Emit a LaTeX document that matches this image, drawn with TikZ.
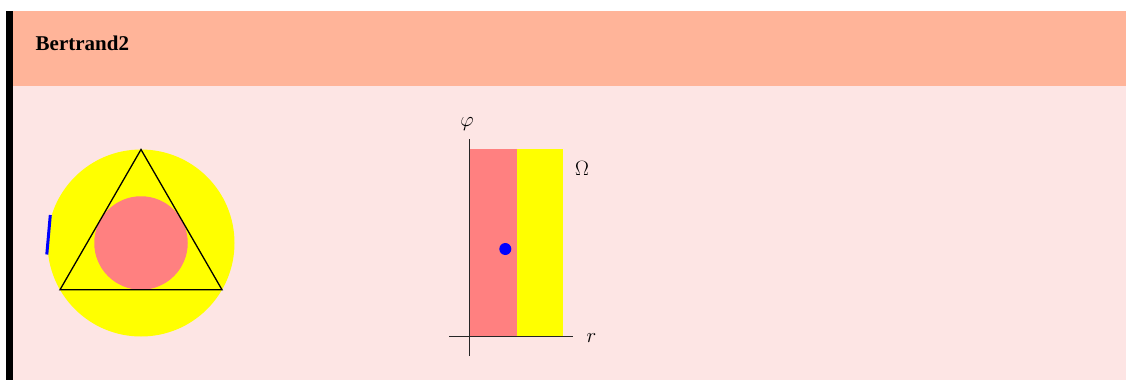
\documentclass[tikz,border=0pt]{standalone}
\usepackage{fontspec}
\newfontfamily\titlefont{Liberation Serif}
\definecolor{hdr}{RGB}{255,180,153}
\definecolor{bdy}{RGB}{253,229,228}
\definecolor{pinkfill}{RGB}{255,128,128}
\definecolor{yel}{RGB}{255,255,0}
\definecolor{dotblue}{RGB}{0,0,255}
\begin{document}
\begin{tikzpicture}[x=1pt,y=-1pt,
  lbl/.style={inner sep=0pt,font=\fontsize{21}{25}\selectfont},
  axisline/.style={draw=black!85,line width=1.4pt},
  thinline/.style={draw=black,line width=1.3pt}]
\useasboundingbox (0,0) rectangle (1128,380);
\fill[white] (0,0) rectangle (1128,380);
% panel
\fill[hdr] (6,11) rectangle (1126,86);
\fill[bdy] (6,86) rectangle (1126,380);
\fill[black] (6,11) rectangle (13.3,380);
\node[anchor=base west,inner sep=0pt,font=\titlefont\bfseries\fontsize{21}{25}\selectfont] (title) at (35.5,50.7) {Bertrand2};
% left figure
\coordinate (c) at (141,243);
\fill[yel] (c) circle[radius=93.5];
\fill[pinkfill] (c) circle[radius=46.75];
\coordinate (ta) at (141,149.5);
\coordinate (tb) at (60,289.75);
\coordinate (tc) at (222,289.75);
\draw[thinline,line join=miter] (ta) -- (tb) -- (tc) -- cycle;
\coordinate (b1) at (50.3,215);
\coordinate (b2) at (46.8,254.5);
\draw[dotblue,line width=3pt] (b1) -- (b2);
% right figure
\fill[pinkfill] (469.3,149) rectangle (517,336.7);
\fill[yel] (517,149) rectangle (563,336.7);
\coordinate (ytop) at (469.3,139.3);
\coordinate (ybot) at (469.3,356);
\coordinate (xl) at (449.3,336.7);
\coordinate (xr) at (573.3,336.7);
\draw[axisline] (ybot) -- (ytop);
\draw[axisline] (xl) -- (xr);
\node[lbl] (phi) at (467,124) {$\varphi$};
\node[lbl] (om) at (582,168.7) {$\Omega$};
\node[lbl] (r) at (591.5,338) {$r$};
\fill[dotblue] (505.3,249) circle[radius=6];
\end{tikzpicture}
\end{document}
